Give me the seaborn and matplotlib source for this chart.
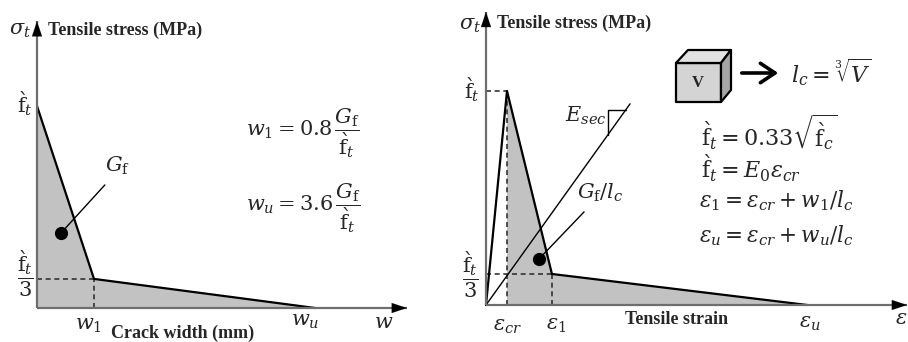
import numpy as np
import pandas as pd
import matplotlib
matplotlib.use("Agg")
import matplotlib.pyplot as plt
from matplotlib.patches import Polygon, FancyArrowPatch
import seaborn as sns

# --- softening law: crack-width form (stress in units of f't, width in units of w1)
crack_width = [0.0, 1.0, 4.88]
crack_stress = [1.0, 0.144, 0.0]

# --- softening law: strain form (strain in units of eps_cr, stress in units of f't)
strain = [0.0, 1.0, 3.14, 15.3]
strain_stress = [0.0, 1.0, 0.145, 0.0]

# secant-modulus line through the origin
esec_strain = [0.0, 6.86]
esec_stress = [0.0, 0.94]

W, H = 908, 342
sns.set_theme(style="white")
plt.rcParams["mathtext.fontset"] = "dejavuserif"
plt.rcParams["font.family"] = ["DejaVu Sans"]
SERIF_BOLD = dict(family="Liberation Serif", weight="bold")

FT = r"\grave{\mathrm{f}}_t"
GF = r"G_\mathrm{f}"

fig = plt.figure(figsize=(W / 100, H / 100), dpi=100)


def P(x, y):
    """pixel position -> figure fraction"""
    return (x / W, 1 - y / H)


def make_axes(x0, x1, origin, sx, sy):
    ax = fig.add_axes([x0 / W, 0, (x1 - x0) / W, 1])
    ox, oy = origin
    ax.set_xlim((x0 - ox) / sx, (x1 - ox) / sx)
    ax.set_ylim((oy - H) / sy, oy / sy)
    ax.axis("off")
    return ax


def axis_arrows(ax, xtip, ytip):
    for tip in [(xtip, 0), (0, ytip)]:
        ax.plot([0, tip[0]], [0, tip[1]], color="#6e6e6e", lw=1.6,
                solid_capstyle="butt", zorder=3)
    x0, x1 = ax.get_xlim()
    y0, y1 = ax.get_ylim()
    dx = (x1 - x0) * 0.03
    dy = (y1 - y0) * 0.045
    ax.annotate("", xy=(xtip, 0), xytext=(xtip - dx, 0),
                arrowprops=dict(arrowstyle="-|>,head_length=0.9,head_width=0.3",
                                color="black", lw=0.1, shrinkA=0, shrinkB=0), zorder=4)
    ax.annotate("", xy=(0, ytip), xytext=(0, ytip - dy),
                arrowprops=dict(arrowstyle="-|>,head_length=0.9,head_width=0.3",
                                color="black", lw=0.1, shrinkA=0, shrinkB=0), zorder=4)


FILL = "#c2c2c2"
DASH = dict(color="#333333", lw=1.2, ls=(0, (3, 2.2)), zorder=2)

# ================= left panel: stress vs crack width =================
axL = make_axes(0, 454, (37, 308), 57, 202)
w1, wu = crack_width[1], crack_width[2]
s1 = crack_stress[1]
axL.fill(crack_width + [0.0], crack_stress + [0.0], color=FILL, lw=0, zorder=1)
sns.lineplot(x=crack_width, y=crack_stress, ax=axL, color="black", lw=1.6,
             sort=False, zorder=3)
axL.plot([0, w1], [s1, s1], **DASH)
axL.plot([w1, w1], [0, s1], **DASH)
axis_arrows(axL, 6.49, 1.42)
axL.plot([0.42, 1.19], [0.371, 0.609], color="black", lw=1.0, zorder=3)
axL.plot([0.42], [0.371], "o", color="black", ms=8.5, zorder=4)

# ================= right panel: stress vs strain =================
axR = make_axes(454, 908, (486, 305), 21, 214)
ecr, e1, eu = strain[1], strain[2], strain[3]
sk = strain_stress[2]
axR.fill([ecr, ecr, e1, eu], [0.0, 1.0, sk, 0.0], color=FILL, lw=0, zorder=1)
sns.lineplot(x=strain, y=strain_stress, ax=axR, color="black", lw=1.6,
             sort=False, zorder=3)
sns.lineplot(x=esec_strain, y=esec_stress, ax=axR, color="black", lw=1.0,
             sort=False, zorder=3)
axR.plot([0, ecr], [1, 1], **DASH)
axR.plot([ecr, ecr], [0, 1], **DASH)
axR.plot([0, e1], [sk, sk], **DASH)
axR.plot([e1, e1], [0, sk], **DASH)
axis_arrows(axR, 20.05, 1.37)

# right-angle slope marker on the secant line
slope = esec_stress[1] / esec_strain[1]
tx, ty = 5.81, 0.911
axR.plot([tx, tx, ty / slope], [tx * slope, ty, ty], color="black", lw=1.0, zorder=3)

# G_f / l_c leader and dot
axR.plot([2.52, 4.67], [0.215, 0.435], color="black", lw=1.0, zorder=3)
axR.plot([2.52], [0.215], "o", color="black", ms=8.5, zorder=4)

# ================= cube  V -> l_c =================
front = [P(676, 63), P(721, 63), P(721, 102), P(676, 102)]
top = [P(676, 63), P(688, 50), P(731, 50), P(721, 63)]
side = [P(721, 63), P(731, 50), P(731, 90), P(721, 102)]
for pts, col in [(front, "#d4d4d4"), (top, "#e2e2e2"), (side, "#a6a6a6")]:
    fig.add_artist(Polygon(pts, closed=True, transform=fig.transFigure,
                           facecolor=col, edgecolor="black", lw=1.6,
                           joinstyle="round"))
fig.text(*P(698, 83), "V", ha="center", va="center", fontsize=12, **SERIF_BOLD)
fig.add_artist(FancyArrowPatch(P(739, 73), P(781, 73), transform=fig.transFigure,
                               arrowstyle="->,head_length=0.75,head_width=0.5",
                               color="black", lw=2.6, mutation_scale=14))

# ================= text =================
MATH = 15


def T(x, y, s, size=MATH, ha="center", va="center", **kw):
    fig.text(*P(x, y), s, fontsize=size, ha=ha, va=va, **kw)


BOLD = 13

# left panel
T(20, 30, r"$\sigma_t$")
T(48, 30, "Tensile stress (MPa)", size=BOLD, ha="left", **SERIF_BOLD)
T(25, 104, rf"${FT}$")
T(25, 274, rf"$\dfrac{{{FT}}}{{3}}$")
T(117, 166, rf"${GF}$")
T(88, 325, r"$w_1$")
T(183, 333, "Crack width (mm)", size=BOLD, **SERIF_BOLD)
T(305, 321, r"$w_u$")
T(384, 322, r"$w$")
T(246, 133, rf"$w_1 = 0.8\,\dfrac{{{GF}}}{{{FT}}}$", ha="left")
T(246, 208, rf"$w_u = 3.6\,\dfrac{{{GF}}}{{{FT}}}$", ha="left")

# right panel
T(470, 25, r"$\sigma_t$")
T(497, 23, "Tensile stress (MPa)", size=BOLD, ha="left", **SERIF_BOLD)
T(472, 90, rf"${FT}$")
T(470, 275, rf"$\dfrac{{{FT}}}{{3}}$")
T(586, 116, r"$E_{sec}$", ha="center")
T(600, 193, rf"${GF}/l_c$")
T(508, 326, r"$\varepsilon_{cr}$")
T(556, 325, r"$\varepsilon_1$")
T(677, 320, "Tensile strain", size=BOLD, **SERIF_BOLD)
T(810, 323, r"$\varepsilon_u$")
T(901, 318, r"$\varepsilon$")
T(791, 72, r"$l_c = \sqrt[3]{V}$", size=16, ha="left")
T(701, 133, r"$\grave{\mathrm{f}}_t = 0.33\sqrt{\grave{\mathrm{f}}_c}$", size=16, ha="left")
T(701, 168, r"$\grave{\mathrm{f}}_t = E_0\varepsilon_{cr}$", size=16, ha="left")
T(699, 201, r"$\varepsilon_1 = \varepsilon_{cr} + w_1/l_c$", size=15.5, ha="left")
T(699, 236, r"$\varepsilon_u = \varepsilon_{cr} + w_u/l_c$", size=15.5, ha="left")

fig.savefig("out.png", dpi=100)
